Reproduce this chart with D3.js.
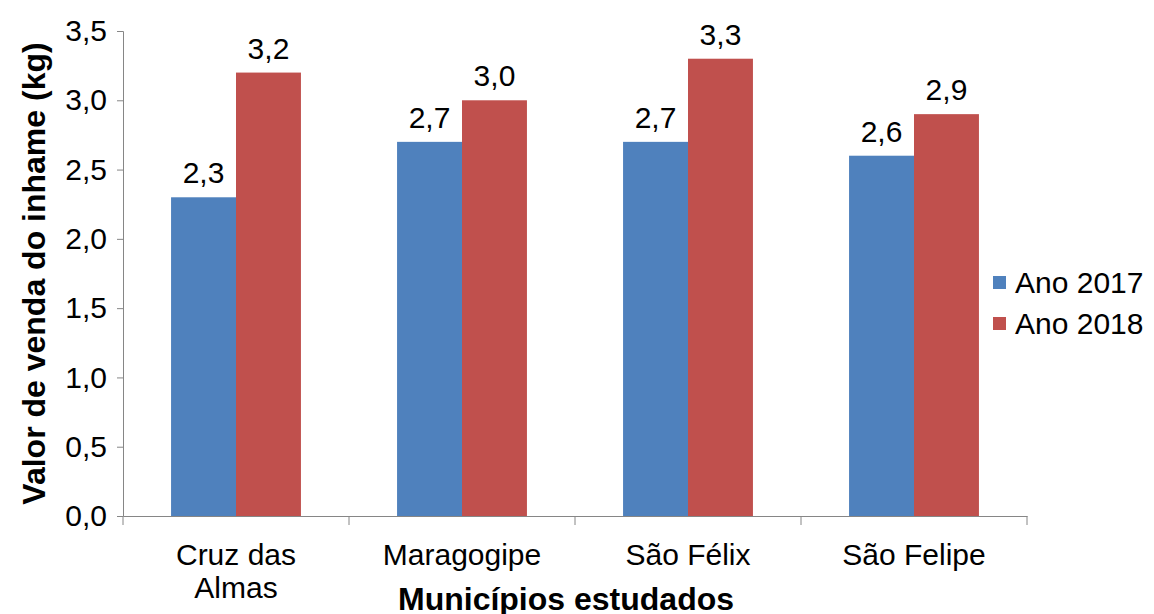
<!DOCTYPE html>
<html>
<head>
<meta charset="utf-8">
<script src="https://cdn.jsdelivr.net/npm/d3@7"></script>
<style>
  body { margin: 0; background: #fff; }
  text { font-family: "Liberation Sans", Arial, sans-serif; fill: #000; }
</style>
</head>
<body>
<div id="chart"></div>
<script>
// data
const municipios = ["Cruz das Almas", "Maragogipe", "São Félix", "São Felipe"];
const series = ["Ano 2017", "Ano 2018"];
const ano2017 = [2.3, 2.7, 2.7, 2.6];
const ano2018 = [3.2, 3.0, 3.3, 2.9];
const yTicks = [0, 0.5, 1.0, 1.5, 2.0, 2.5, 3.0, 3.5];
const colors = ["#4F81BD", "#C0504D"];

const width = 1154, height = 614;
const margin = { top: 31, right: 127, bottom: 98, left: 123 };
const fs = 30;

const svg = d3.select("#chart").append("svg")
    .attr("width", width)
    .attr("height", height);

const x0 = d3.scaleBand()
    .domain(municipios)
    .range([margin.left, width - margin.right])
    .padding(0);

const x1 = d3.scaleBand()
    .domain(series)
    .range([0, x0.bandwidth()])
    .paddingInner(0)
    .paddingOuter(0.74);

const y = d3.scaleLinear()
    .domain([0, 3.5])
    .range([height - margin.bottom, margin.top]);

const fmt = v => d3.format(".1f")(v).replace(".", ",");

// y axis
const yAxis = svg.append("g")
    .attr("transform", `translate(${margin.left},0)`)
    .call(d3.axisLeft(y).tickValues(yTicks).tickFormat(fmt).tickSize(6).tickPadding(10));
yAxis.selectAll("text").style("font-size", fs + "px");

// x axis
const xAxis = svg.append("g")
    .attr("transform", `translate(0,${height - margin.bottom})`)
    .call(d3.axisBottom(x0).tickValues([]).tickSizeOuter(0));
xAxis.selectAll(".tick-line")
    .data(d3.range(municipios.length + 1))
    .enter().append("line")
    .attr("class", "tick-line")
    .attr("x1", i => margin.left + i * x0.step())
    .attr("x2", i => margin.left + i * x0.step())
    .attr("y1", 0).attr("y2", 9);

svg.selectAll(".domain, .tick line, .tick-line").attr("stroke", "#868686");

// category labels, Cruz das Almas wraps on two lines
const catLabels = svg.append("g").selectAll("text")
    .data(municipios)
    .enter().append("text")
    .attr("x", d => x0(d) + x0.bandwidth() / 2)
    .attr("y", height - margin.bottom + 49)
    .attr("text-anchor", "middle")
    .style("font-size", fs + "px");
catLabels.each(function(d) {
    const lines = d === "Cruz das Almas" ? ["Cruz das", "Almas"] : [d];
    d3.select(this).selectAll("tspan")
        .data(lines)
        .enter().append("tspan")
        .attr("x", x0(d) + x0.bandwidth() / 2)
        .attr("dy", (l, i) => i === 0 ? 0 : 33)
        .text(l => l);
});

// bars
const rows = municipios.map((m, i) => ({ m, vals: [ano2017[i], ano2018[i]] }));
const groups = svg.append("g").selectAll("g")
    .data(rows)
    .enter().append("g")
    .attr("transform", d => `translate(${x0(d.m)},0)`);

groups.selectAll("rect")
    .data(d => d.vals.map((v, j) => ({ s: series[j], v, j })))
    .enter().append("rect")
    .attr("x", d => x1(d.s))
    .attr("y", d => y(d.v))
    .attr("width", x1.bandwidth())
    .attr("height", d => y(0) - y(d.v))
    .attr("fill", d => colors[d.j]);

groups.selectAll(".val")
    .data(d => d.vals.map((v, j) => ({ s: series[j], v, j })))
    .enter().append("text")
    .attr("class", "val")
    .attr("x", d => x1(d.s) + x1.bandwidth() / 2)
    .attr("y", d => y(d.v) - 14)
    .attr("text-anchor", "middle")
    .style("font-size", fs + "px")
    .text(d => fmt(d.v));

// axis titles
svg.append("text")
    .attr("x", 566)
    .attr("y", 610)
    .attr("text-anchor", "middle")
    .style("font-size", "32px")
    .style("font-weight", "bold")
    .text("Municípios estudados");

svg.append("text")
    .attr("transform", `translate(45,${(margin.top + height - margin.bottom) / 2}) rotate(-90)`)
    .attr("text-anchor", "middle")
    .style("font-size", "32px")
    .style("font-weight", "bold")
    .text("Valor de venda do inhame (kg)");

// legend
const legend = svg.append("g").selectAll("g")
    .data(series)
    .enter().append("g")
    .attr("transform", (d, i) => `translate(993,${276 + i * 41})`);
legend.append("rect")
    .attr("width", 13).attr("height", 13)
    .attr("fill", (d, i) => colors[i]);
legend.append("text")
    .attr("x", 22)
    .attr("y", 17)
    .style("font-size", fs + "px")
    .text(d => d);
</script>
</body>
</html>
